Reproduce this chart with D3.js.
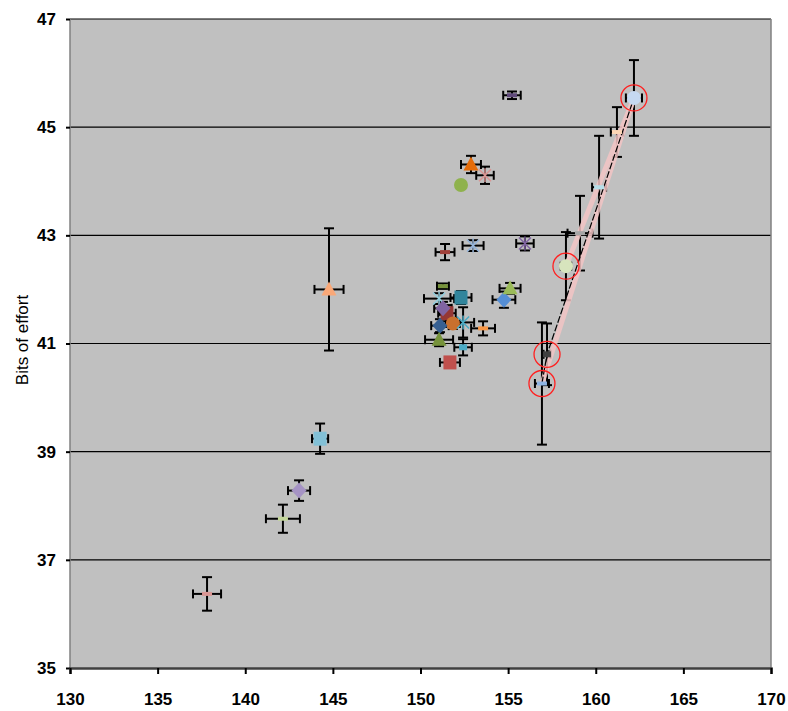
<!DOCTYPE html>
<html>
<head>
<meta charset="utf-8">
<script src="https://cdn.jsdelivr.net/npm/d3@7"></script>
<style>
  body { margin: 0; background: #fff; }
  svg { display: block; }
  .axis text { font-family: "Liberation Sans", Arial, sans-serif; font-size: 17px; font-weight: bold; fill: #000; }
</style>
</head>
<body>
<svg id="chart" width="788" height="711"></svg>
<script>
// tick values
const xTicks = [130, 135, 140, 145, 150, 155, 160, 165, 170];
const yTicks = [35, 37, 39, 41, 43, 45, 47];

// scattered points (value, error)
const ptX    = [137.82, 142.15, 143.07, 144.27, 144.78, 151.28, 151.51, 152.31, 151.06, 151.28, 151.85, 152.43, 151.11, 153.57, 151.06, 152.43, 151.68, 154.76, 155.11, 152.88, 153.68, 152.31, 151.40, 153.00, 155.96, 155.22];
const ptY    = [36.37, 37.76, 38.28, 39.24, 42.00, 42.06, 41.56, 41.85, 41.83, 41.65, 41.37, 41.39, 41.33, 41.28, 41.07, 40.93, 40.65, 41.81, 42.02, 44.31, 44.11, 43.93, 42.69, 42.81, 42.85, 45.59];
const ptErrX = [0.80, 0.97, 0.63, 0.46, 0.83, 0.34, 0.50, 0.60, 0.86, 0.50, 0.40, 0.63, 0.50, 0.68, 0.80, 0.50, 0.57, 0.65, 0.60, 0.57, 0.50, 0, 0.54, 0.60, 0.50, 0.50];
const ptErrY = [0.31, 0.26, 0.19, 0.28, 1.13, 0.05, 0.15, 0.12, 0.10, 0.12, 0.10, 0.28, 0.12, 0.13, 0.12, 0.15, 0.10, 0.15, 0.10, 0.16, 0.16, 0, 0.15, 0.10, 0.13, 0.07];

// the sequence along the steep line
const seqX    = [156.93, 157.22, 158.30, 159.10, 160.19, 161.21, 162.18];
const seqY    = [40.26, 40.80, 42.43, 43.04, 43.89, 44.91, 45.54];
const seqErrX = [0.40, 0.20, 0.30, 0.71, 0.40, 0.35, 0.46];
const seqErrY = [1.13, 0.57, 0.63, 0.69, 0.95, 0.46, 0.70];
const seqCircled = [0, 1, 2, 6];
const seqPink = [[0, 6], [2, 6]];
const seqDashed = [0, 1, 6];

// marker styles
const ptMarks = [
  ["dash", "#d99694"], ["dash", "#c3d69b"], ["diamond", "#a593c4"], ["square", "#82c0d6"],
  ["triangle", "#f9a878"], ["dash", "#77933c"], ["square", "#953735"], ["square", "#31859c"],
  ["star", "#93cddd"], ["diamond", "#8064a2"], ["circle", "#c8702e"], ["star", "#4bacc6"],
  ["diamond", "#376092"], ["dash", "#f79646"], ["triangle", "#77933c"], ["small", "#4bacc6"],
  ["square", "#c0504d"], ["diamond", "#558ed5"], ["triangle", "#9bbb59"], ["triangle", "#e46c0a"],
  ["star", "#d99694"], ["circle", "#8fb24d"], ["dash", "#a0403a"], ["star", "#95b3d7"],
  ["star", "#8064a2"], ["dash", "#604a7b"]
];
const seqMarks = [
  ["dash", "#8eb4e3"], ["small", "#404040"], ["circle", "#d7e4bd"], ["dash", "#a6a6a6"],
  ["dash", "#b7dee8"], ["dash", "#fcd5b5"], ["circle", "#c6d9f1"]
];

const svg = d3.select("#chart");
const plotLeft = 70, plotRight = 771, plotTop = 19, plotBottom = 668;

const x = d3.scaleLinear().domain([130, 170]).range([plotLeft, plotRight]);
const y = d3.scaleLinear().domain([35, 47]).range([plotBottom, plotTop]);

// plot area
svg.append("rect")
  .attr("x", plotLeft).attr("y", plotTop)
  .attr("width", plotRight - plotLeft).attr("height", plotBottom - plotTop)
  .attr("fill", "#c0c0c0");

// gridlines
svg.append("g").selectAll("line")
  .data(yTicks.filter(d => d > 35))
  .join("line")
  .attr("x1", plotLeft).attr("x2", plotRight)
  .attr("y1", d => y(d)).attr("y2", d => y(d))
  .attr("stroke", "#000").attr("stroke-width", 1.2);

// frame
svg.append("line").attr("x1", plotLeft).attr("x2", plotLeft).attr("y1", plotTop).attr("y2", plotBottom)
  .attr("stroke", "#808080").attr("stroke-width", 1.5);
svg.append("line").attr("x1", plotRight).attr("x2", plotRight).attr("y1", plotTop).attr("y2", plotBottom)
  .attr("stroke", "#808080").attr("stroke-width", 1.5);

// axes
const yAxis = svg.append("g").attr("class", "axis")
  .attr("transform", `translate(${plotLeft},0)`)
  .call(d3.axisLeft(y).tickValues(yTicks).tickSize(4).tickPadding(10));
yAxis.select(".domain").remove();
yAxis.selectAll(".tick line").attr("stroke", "#000").attr("stroke-width", 2);

const xAxis = svg.append("g").attr("class", "axis")
  .attr("transform", `translate(0,${plotBottom})`)
  .call(d3.axisBottom(x).tickValues(xTicks).tickSize(6).tickPadding(19));
xAxis.select(".domain").attr("stroke", "#404040").attr("stroke-width", 2.5);
xAxis.selectAll(".tick line").attr("stroke", "#000").attr("stroke-width", 2);

svg.append("text")
  .attr("transform", `translate(28,340) rotate(-90)`)
  .attr("text-anchor", "middle")
  .attr("font-family", "Liberation Sans, Arial, sans-serif")
  .attr("font-size", 17)
  .text("Bits of effort");

function errorBars(g, xs, ys, exs, eys) {
  xs.forEach((xv, i) => {
    const cx = x(xv), cy = y(ys[i]);
    const eb = g.append("g").attr("stroke", "#000").attr("stroke-width", 2);
    if (eys[i] > 0) {
      const y1 = y(ys[i] + eys[i]), y2 = y(ys[i] - eys[i]);
      eb.append("line").attr("x1", cx).attr("x2", cx).attr("y1", y1).attr("y2", y2);
      eb.append("line").attr("x1", cx - 5).attr("x2", cx + 5).attr("y1", y1).attr("y2", y1);
      eb.append("line").attr("x1", cx - 5).attr("x2", cx + 5).attr("y1", y2).attr("y2", y2);
    }
    if (exs[i] > 0) {
      const x1 = x(xv - exs[i]), x2 = x(xv + exs[i]);
      eb.append("line").attr("x1", x1).attr("x2", x2).attr("y1", cy).attr("y2", cy);
      eb.append("line").attr("x1", x1).attr("x2", x1).attr("y1", cy - 4.5).attr("y2", cy + 4.5);
      eb.append("line").attr("x1", x2).attr("x2", x2).attr("y1", cy - 4.5).attr("y2", cy + 4.5);
    }
  });
}

function marker(g, cx, cy, shape, color) {
  if (shape === "square") {
    g.append("rect").attr("x", cx - 6.5).attr("y", cy - 7).attr("width", 13).attr("height", 14).attr("fill", color);
  } else if (shape === "small") {
    g.append("rect").attr("x", cx - 4).attr("y", cy - 3).attr("width", 8).attr("height", 6).attr("fill", color);
  } else if (shape === "dash") {
    g.append("rect").attr("x", cx - 5).attr("y", cy - 2).attr("width", 10).attr("height", 4).attr("fill", color);
  } else if (shape === "diamond") {
    g.append("path").attr("d", `M${cx},${cy - 8}L${cx + 7.5},${cy}L${cx},${cy + 8}L${cx - 7.5},${cy}Z`).attr("fill", color);
  } else if (shape === "triangle") {
    g.append("path").attr("d", `M${cx},${cy - 8}L${cx + 7.5},${cy + 6}L${cx - 7.5},${cy + 6}Z`).attr("fill", color);
  } else if (shape === "circle") {
    g.append("circle").attr("cx", cx).attr("cy", cy).attr("r", 7).attr("fill", color);
  } else if (shape === "star") {
    g.append("path")
      .attr("d", `M${cx - 6},${cy - 6}L${cx + 6},${cy + 6}M${cx + 6},${cy - 6}L${cx - 6},${cy + 6}M${cx},${cy - 7}L${cx},${cy + 7}`)
      .attr("stroke", color).attr("stroke-width", 1.5).attr("fill", "none");
  }
}

const gBars = svg.append("g");
errorBars(gBars, ptX, ptY, ptErrX, ptErrY);
errorBars(gBars, seqX, seqY, seqErrX, seqErrY);

// pink band and dashed line along the sequence
const line = d3.line().x(i => x(seqX[i])).y(i => y(seqY[i]));
svg.append("g").selectAll("path")
  .data(seqPink)
  .join("path")
  .attr("d", d => line(d))
  .attr("fill", "none")
  .attr("stroke", "#f2c4c4")
  .attr("stroke-opacity", 0.85)
  .attr("stroke-width", 5);
svg.append("path")
  .attr("d", line(seqDashed))
  .attr("fill", "none")
  .attr("stroke", "#000")
  .attr("stroke-width", 1.2)
  .attr("stroke-dasharray", "7,2");

const gMarks = svg.append("g");
ptX.forEach((xv, i) => marker(gMarks, x(xv), y(ptY[i]), ptMarks[i][0], ptMarks[i][1]));
seqX.forEach((xv, i) => marker(gMarks, x(xv), y(seqY[i]), seqMarks[i][0], seqMarks[i][1]));

svg.append("g").selectAll("circle")
  .data(seqCircled)
  .join("circle")
  .attr("cx", i => x(seqX[i]))
  .attr("cy", i => y(seqY[i]))
  .attr("r", 13)
  .attr("fill", "none")
  .attr("stroke", "#ff2020")
  .attr("stroke-width", 1.3);
</script>
</body>
</html>
